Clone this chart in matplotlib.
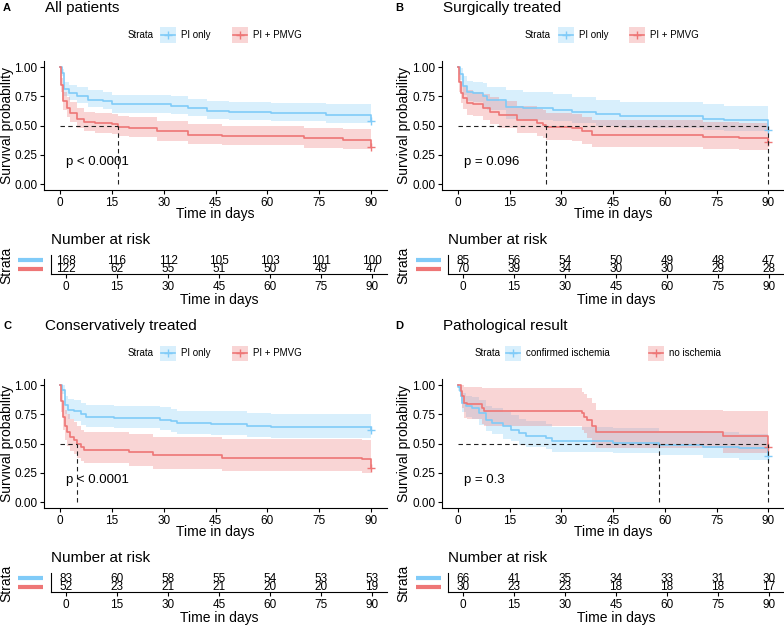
import matplotlib
import matplotlib.pyplot as plt
import numpy as np
from matplotlib.lines import Line2D
from matplotlib.patches import Rectangle

matplotlib.use("Agg")

W, H = 784, 625
plt.rcParams["font.family"] = ["Liberation Sans", "DejaVu Sans"]

BLUE = "#80CBF8"
RED = "#EE7676"

RISK_TIMES = [0, 15, 30, 45, 60, 75, 90]
X_TICKS = [0, 15, 30, 45, 60, 75, 90]
Y_TICKS = [0.0, 0.25, 0.5, 0.75, 1.0]

# rows: (time, survival, lower CI, upper CI)
A_PI = [(0, 1.00, 1.00, 1.00), (0.5, 0.95, 0.92, 0.98), (1.3, 0.81, 0.75, 0.87),
        (2.5, 0.78, 0.72, 0.85), (5, 0.75, 0.69, 0.83), (8, 0.72, 0.66, 0.80),
        (12.5, 0.71, 0.64, 0.79), (15, 0.68, 0.61, 0.76), (32, 0.665, 0.60, 0.75),
        (37, 0.65, 0.58, 0.73), (42.5, 0.627, 0.56, 0.71), (49, 0.615, 0.55, 0.70),
        (61, 0.607, 0.54, 0.69), (77, 0.593, 0.525, 0.68), (90, 0.54, 0.47, 0.62)]
A_PMVG = [(0, 1.00, 1.00, 1.00), (0.3, 0.85, 0.79, 0.91), (1, 0.71, 0.63, 0.79),
          (2, 0.65, 0.57, 0.74), (3, 0.61, 0.53, 0.70), (5, 0.56, 0.48, 0.65),
          (7, 0.53, 0.45, 0.62), (10, 0.52, 0.44, 0.61), (15, 0.51, 0.43, 0.60),
          (16.8, 0.49, 0.41, 0.58), (20, 0.48, 0.40, 0.57), (28, 0.45, 0.37, 0.54),
          (37, 0.42, 0.34, 0.51), (47, 0.41, 0.33, 0.50), (70.5, 0.39, 0.31, 0.48),
          (82, 0.38, 0.30, 0.47), (90, 0.32, 0.25, 0.41)]

B_PI = [(0, 1.00, 1.00, 1.00), (0.5, 0.94, 0.89, 0.99), (1.5, 0.835, 0.76, 0.92),
        (2.5, 0.79, 0.71, 0.88), (4.4, 0.78, 0.70, 0.87), (7.3, 0.75, 0.66, 0.86),
        (8.5, 0.72, 0.63, 0.83), (14, 0.66, 0.56, 0.80), (19, 0.65, 0.55, 0.79),
        (27.6, 0.635, 0.54, 0.77), (33, 0.615, 0.52, 0.74), (40, 0.60, 0.50, 0.72),
        (47, 0.58, 0.48, 0.70), (71, 0.56, 0.46, 0.68), (77, 0.55, 0.45, 0.67),
        (90, 0.46, 0.37, 0.58)]
B_PMVG = [(0, 1.00, 1.00, 1.00), (0.2, 0.87, 0.79, 0.95), (1, 0.78, 0.69, 0.88),
          (1.6, 0.735, 0.64, 0.84), (2.5, 0.69, 0.59, 0.80), (4.4, 0.68, 0.58, 0.79),
          (7.3, 0.65, 0.55, 0.77), (9.3, 0.62, 0.51, 0.74), (12, 0.59, 0.48, 0.71),
          (17, 0.55, 0.44, 0.67), (22.8, 0.52, 0.41, 0.64), (24.7, 0.505, 0.39, 0.63),
          (25.6, 0.487, 0.38, 0.61), (33, 0.48, 0.37, 0.60), (36, 0.45, 0.34, 0.57),
          (39, 0.42, 0.32, 0.55), (71, 0.40, 0.30, 0.53), (81.6, 0.394, 0.29, 0.525),
          (90, 0.36, 0.26, 0.49)]

C_PI = [(0, 1.00, 1.00, 1.00), (0.5, 0.96, 0.92, 1.00), (1.6, 0.83, 0.75, 0.91),
        (2.2, 0.79, 0.71, 0.88), (4, 0.776, 0.69, 0.87), (6, 0.75, 0.66, 0.85),
        (7.4, 0.73, 0.64, 0.83), (15.6, 0.72, 0.63, 0.82), (29, 0.705, 0.615, 0.81),
        (32, 0.69, 0.60, 0.795), (34, 0.675, 0.585, 0.78), (43.6, 0.667, 0.575, 0.775),
        (54, 0.652, 0.56, 0.765), (61, 0.64, 0.545, 0.75), (90, 0.62, 0.525, 0.735)]
C_PMVG = [(0, 1.00, 1.00, 1.00), (0.2, 0.86, 0.77, 0.96), (1, 0.73, 0.62, 0.86),
          (1.4, 0.646, 0.53, 0.79), (2, 0.60, 0.48, 0.75), (3, 0.56, 0.44, 0.71),
          (4, 0.53, 0.41, 0.68), (5, 0.50, 0.38, 0.65), (6, 0.47, 0.35, 0.62),
          (7, 0.445, 0.33, 0.60), (20, 0.43, 0.31, 0.58), (27, 0.40, 0.285, 0.56),
          (47, 0.38, 0.265, 0.54), (87.5, 0.365, 0.25, 0.53), (90, 0.29, 0.18, 0.46)]

D_CI = [(0, 1.00, 1.00, 1.00), (0.1, 0.985, 0.95, 1.00), (0.5, 0.95, 0.90, 1.00),
        (0.8, 0.905, 0.84, 0.98), (1.3, 0.85, 0.77, 0.93), (2.2, 0.82, 0.73, 0.91),
        (4, 0.805, 0.71, 0.90), (6, 0.76, 0.66, 0.87), (8, 0.70, 0.61, 0.82),
        (10, 0.675, 0.58, 0.80), (13, 0.646, 0.54, 0.77), (15.3, 0.618, 0.52, 0.74),
        (17.7, 0.59, 0.49, 0.71), (19.6, 0.566, 0.47, 0.69), (25.5, 0.546, 0.45, 0.67),
        (27.4, 0.52, 0.43, 0.645), (44.8, 0.508, 0.415, 0.63), (58.4, 0.488, 0.40, 0.61),
        (71, 0.474, 0.38, 0.60), (81.6, 0.46, 0.36, 0.585), (90, 0.39, 0.29, 0.52)]
D_NI = [(0, 1.00, 1.00, 1.00), (0.8, 0.95, 0.86, 1.00), (1.3, 0.905, 0.80, 1.00),
        (1.7, 0.85, 0.72, 0.98), (2.7, 0.84, 0.71, 0.98), (7, 0.80, 0.67, 0.977),
        (7.5, 0.776, 0.647, 0.977), (36, 0.76, 0.62, 0.94), (36.6, 0.73, 0.59, 0.92),
        (37.5, 0.70, 0.55, 0.89), (39, 0.647, 0.50, 0.85), (40, 0.60, 0.465, 0.79),
        (76.8, 0.566, 0.42, 0.776), (90, 0.47, 0.31, 0.70)]

A_RISK_PI = [168, 116, 112, 105, 103, 101, 100]
A_RISK_PMVG = [122, 62, 55, 51, 50, 49, 47]
B_RISK_PI = [85, 56, 54, 50, 49, 48, 47]
B_RISK_PMVG = [70, 39, 34, 30, 30, 29, 28]
C_RISK_PI = [83, 60, 58, 55, 54, 53, 53]
C_RISK_PMVG = [52, 23, 21, 21, 20, 20, 19]
D_RISK_CI = [66, 41, 35, 34, 33, 31, 30]
D_RISK_NI = [30, 23, 23, 18, 18, 18, 17]

LETTERS = ["A", "B", "C", "D"]
TITLES = ["All patients", "Surgically treated", "Conservatively treated", "Pathological result"]
STRATA = [["PI only", "PI + PMVG"], ["PI only", "PI + PMVG"],
          ["PI only", "PI + PMVG"], ["confirmed ischemia", "no ischemia"]]
PVALS = ["p < 0.0001", "p = 0.096", "p < 0.0001", "p = 0.3"]
CURVES = [(A_PI, A_PMVG), (B_PI, B_PMVG), (C_PI, C_PMVG), (D_CI, D_NI)]
RISKS = [(A_RISK_PI, A_RISK_PMVG), (B_RISK_PI, B_RISK_PMVG),
         (C_RISK_PI, C_RISK_PMVG), (D_RISK_CI, D_RISK_NI)]

# layout in pixels
COLS = [
    dict(main=(44.4, 386.6), table=(50.7, 387.3), ylab=7, bar=(18, 43), letter=3, title=45,
         legend=(128, 160, 232)),
    dict(main=(442.4, 784.0), table=(447.7, 784.0), ylab=404, bar=(416, 441), letter=395, title=443,
         legend=(525, 558, 629)),
]
LEGEND_D = (475, 505, 648)
ROW_DY = [0, 318]


def fx(x):
    return x / W


def fy(y):
    return 1 - y / H


def add_box(fig, left, top, right, bottom):
    return fig.add_axes([fx(left), fy(bottom), (right - left) / W, (bottom - top) / H])


def ftext(fig, x, y, s, **kw):
    return fig.text(fx(x), fy(y), s, **kw)


def median_time(rows):
    for t, s, _, _ in rows:
        if s <= 0.5:
            return t
    return None


def draw_curve(ax, rows, color):
    t, s, lo, hi = (np.array(c, dtype=float) for c in zip(*rows))
    ax.fill_between(t, lo, hi, step="post", color=color, alpha=0.3, lw=0)
    ax.step(t, s, where="post", color=color, lw=1.2)
    ax.plot([t[-1]], [s[-1]], marker="+", color=color, ms=6, mew=1.0, clip_on=False)


def style_axis(ax):
    for side in ("top", "right"):
        ax.spines[side].set_visible(False)
    for side in ("left", "bottom"):
        ax.spines[side].set_linewidth(0.8)
        ax.spines[side].set_color("black")
    ax.tick_params(length=3, width=0.8, labelsize=8.5, colors="black", pad=2)


fig = plt.figure(figsize=(W / 100, H / 100), dpi=100)

for i in range(4):
    row, col = divmod(i, 2)
    dy = ROW_DY[row]
    lay = COLS[col]
    blue_rows, red_rows = CURVES[i]

    # header
    ftext(fig, lay["letter"], 8 + dy, LETTERS[i], fontsize=8, fontweight="bold", va="center")
    ftext(fig, lay["title"], 8 + dy, TITLES[i], fontsize=11, va="center")

    # legend
    sx, k1, k2 = LEGEND_D if i == 3 else lay["legend"]
    ly = 35 + dy
    ftext(fig, sx, ly, "Strata", fontsize=7, va="center")
    for kx, color, name in ((k1, BLUE, STRATA[i][0]), (k2, RED, STRATA[i][1])):
        fig.add_artist(Rectangle((fx(kx), fy(ly + 7.5)), 16 / W, 15 / H,
                                 transform=fig.transFigure, facecolor=color, alpha=0.3, lw=0))
        fig.add_artist(Line2D([fx(kx + 1), fx(kx + 15)], [fy(ly), fy(ly)],
                              transform=fig.transFigure, color=color, lw=1.2))
        fig.add_artist(Line2D([fx(kx + 8)], [fy(ly)], transform=fig.transFigure,
                              color=color, marker="+", ms=6, mew=1.0))
        ftext(fig, kx + 21, ly, name, fontsize=7, va="center")

    # survival plot
    ml, mr = lay["main"]
    ax = add_box(fig, ml, 61.2 + dy, mr, 189.9 + dy)
    draw_curve(ax, blue_rows, BLUE)
    draw_curve(ax, red_rows, RED)
    meds = [m for m in (median_time(blue_rows), median_time(red_rows)) if m is not None]
    if meds:
        ax.plot([0, max(meds)], [0.5, 0.5], color="#222222", lw=0.8, ls=(0, (4, 3)))
        for m in meds:
            ax.plot([m, m], [0, 0.5], color="#222222", lw=0.8, ls=(0, (4, 3)))
    ax.text(1.8, 0.19, PVALS[i], fontsize=9.5, va="center", ha="left")
    ax.set_xlim(-4.5, 94.5)
    ax.set_ylim(-0.05, 1.05)
    ax.set_xticks(X_TICKS)
    ax.set_yticks(Y_TICKS)
    ax.set_yticklabels([f"{v:.2f}" for v in Y_TICKS])
    style_axis(ax)
    ftext(fig, (ml + mr) / 2, 214 + dy, "Time in days", fontsize=10, ha="center", va="center")
    ftext(fig, lay["ylab"], 125 + dy, "Survival probability", fontsize=10,
          rotation=90, ha="center", va="center")

    # risk table
    tl, tr = lay["table"]
    ftext(fig, tl, 240 + dy, "Number at risk", fontsize=11, va="center")
    at = add_box(fig, tl, 255 + dy, tr, 274 + dy)
    at.set_xlim(-4.5, 94.5)
    at.set_ylim(0.375, 2.75)
    r_blue, r_red = RISKS[i]
    for t, nb, nr in zip(RISK_TIMES, r_blue, r_red):
        at.text(t, 2, str(nb), ha="center", va="center", fontsize=8.5)
        at.text(t, 1, str(nr), ha="center", va="center", fontsize=8.5)
    at.set_xticks(X_TICKS)
    at.set_yticks([])
    style_axis(at)
    b0, b1 = lay["bar"]
    for yy, color in ((259.5, BLUE), (268.5, RED)):
        fig.add_artist(Line2D([fx(b0), fx(b1)], [fy(yy + dy), fy(yy + dy)],
                              transform=fig.transFigure, color=color, lw=3,
                              solid_capstyle="butt"))
    ftext(fig, lay["ylab"] - 1, 265 + dy, "Strata", fontsize=10, rotation=90,
          ha="center", va="center")
    ftext(fig, (tl + tr) / 2, 300 + dy, "Time in days", fontsize=10, ha="center", va="center")

fig.savefig("out.png", dpi=100)
